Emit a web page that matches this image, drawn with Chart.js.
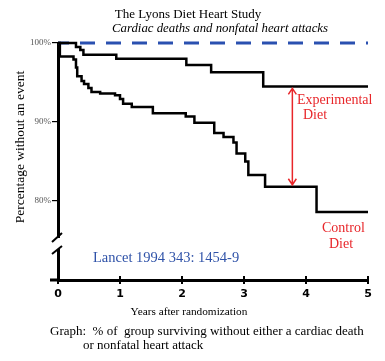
<!DOCTYPE html>
<html>
<head>
<meta charset="utf-8">
<script src="https://cdn.jsdelivr.net/npm/chart.js@4"></script>
<style>
  html, body { margin: 0; padding: 0; background: #fff; }
  #wrap { width: 385px; height: 361px; }
</style>
</head>
<body>
<div id="wrap"><canvas id="lyonsChart" width="385" height="361"></canvas></div>
<script>
// Survival curves (years after randomization, % without an event)
const expYears = [0, 0.29, 0.36, 0.41, 0.94, 2.07, 2.47, 3.31, 5];
const expPct   = [100, 99.5, 99.1, 98.5, 98.0, 97.2, 96.3, 94.5, 94.5];
const ctlYears = [0, 0.03, 0.25, 0.29, 0.31, 0.38, 0.42, 0.49, 0.54, 0.68, 0.92, 1.0, 1.05, 1.19, 1.53, 2.06, 2.2, 2.52, 2.67, 2.83, 2.88, 3.02, 3.07, 3.34, 4.17, 5];
const ctlPct   = [100, 98.3, 97.9, 96.9, 95.8, 95.2, 94.8, 94.3, 93.8, 93.6, 93.4, 92.9, 92.3, 91.9, 91.1, 90.7, 89.9, 88.6, 88.1, 87.4, 86.0, 85.0, 83.3, 81.8, 78.6, 78.6];
const refYears = [0, 5];
const refPct   = [100, 100];
const yearTicks = [0, 1, 2, 3, 4, 5];
const pctTicks  = [70, 80, 90, 100];
const arrowYear = 3.78;

function toPoints(xs, ys) {
    return xs.map((x, i) => ({ x: x, y: ys[i] }));
}

const SERIF = '"Liberation Serif", "DejaVu Serif", serif';

const extrasPlugin = {
    id: 'extras',
    afterDraw(chart) {
        const ctx = chart.ctx;
        const xs = chart.scales.x, ys = chart.scales.y;
        const area = chart.chartArea;
        ctx.save();

        // x axis runs a little past the y axis
        ctx.strokeStyle = '#000';
        ctx.lineWidth = 3;
        ctx.beginPath();
        ctx.moveTo(area.left - 8, area.bottom);
        ctx.lineTo(area.left, area.bottom);
        ctx.stroke();

        // small upward tick parts
        ctx.lineWidth = 2;
        yearTicks.forEach(v => {
            const px = xs.getPixelForValue(v);
            ctx.beginPath();
            ctx.moveTo(px, area.bottom);
            ctx.lineTo(px, area.bottom - 4);
            ctx.stroke();
        });

        // axis break
        ctx.fillStyle = '#fff';
        ctx.fillRect(area.left - 3, 238, 6, 11);
        ctx.lineWidth = 2;
        ctx.beginPath();
        ctx.moveTo(area.left - 6, 242); ctx.lineTo(area.left + 4, 233);
        ctx.moveTo(area.left - 6, 254); ctx.lineTo(area.left + 4, 246);
        ctx.stroke();

        // red arrow between the curves
        const ax = xs.getPixelForValue(arrowYear);
        const aTop = ys.getPixelForValue(expPct[expPct.length - 1]) + 2;
        const aBot = ys.getPixelForValue(ctlPct[ctlPct.length - 3]) - 2;
        ctx.strokeStyle = '#e8262a';
        ctx.lineWidth = 1.5;
        ctx.beginPath();
        ctx.moveTo(ax, aTop); ctx.lineTo(ax, aBot);
        ctx.moveTo(ax - 4, aTop + 6); ctx.lineTo(ax, aTop); ctx.lineTo(ax + 4, aTop + 6);
        ctx.moveTo(ax - 4, aBot - 6); ctx.lineTo(ax, aBot); ctx.lineTo(ax + 4, aBot - 6);
        ctx.stroke();

        // texts
        ctx.fillStyle = '#000';
        ctx.textBaseline = 'alphabetic';
        ctx.textAlign = 'center';
        ctx.font = '13px ' + SERIF;
        ctx.fillText('The Lyons Diet Heart Study', 188, 18);
        ctx.font = 'italic 12.8px ' + SERIF;
        ctx.textAlign = 'left';
        ctx.fillText('Cardiac deaths and nonfatal heart attacks', 112, 32);

        ctx.font = '11.3px ' + SERIF;
        ctx.textAlign = 'center';
        ctx.fillText('Years after randomization', 189, 315);

        ctx.font = '13px ' + SERIF;
        ctx.textAlign = 'left';
        ctx.fillText('Graph:  % of  group surviving without either a cardiac death', 50, 335);
        ctx.fillText('or nonfatal heart attack', 83, 349);

        ctx.save();
        ctx.translate(24, 147);
        ctx.rotate(-Math.PI / 2);
        ctx.textAlign = 'center';
        ctx.font = '13.5px ' + SERIF;
        ctx.fillText('Percentage without an event', 0, 0);
        ctx.restore();

        ctx.fillStyle = '#e8262a';
        ctx.font = '14px ' + SERIF;
        ctx.fillText('Experimental', 297, 104);
        ctx.fillText('Diet', 303, 119);
        ctx.fillText('Control', 322, 232);
        ctx.fillText('Diet', 329, 248);

        ctx.fillStyle = '#2f52a8';
        ctx.font = '14.5px ' + SERIF;
        ctx.fillText('Lancet 1994 343: 1454-9', 93, 262);

        ctx.restore();
    }
};

document.addEventListener('DOMContentLoaded', function() {
    const ctx = document.getElementById('lyonsChart').getContext('2d');
    new Chart(ctx, {
        type: 'line',
        data: {
            datasets: [{
                label: 'No event',
                data: toPoints(refYears, refPct),
                borderColor: '#2a50b0',
                borderWidth: 3,
                borderDash: [15, 11],
                borderDashOffset: 4,
                pointRadius: 0,
                clip: false,
                order: 3
            }, {
                label: 'Experimental Diet',
                data: toPoints(expYears, expPct),
                borderColor: '#000',
                borderWidth: 2.5,
                stepped: 'before',
                pointRadius: 0,
                clip: false,
                order: 1
            }, {
                label: 'Control Diet',
                data: toPoints(ctlYears, ctlPct),
                borderColor: '#000',
                borderWidth: 2.5,
                stepped: 'before',
                pointRadius: 0,
                clip: false,
                order: 2
            }]
        },
        options: {
            responsive: false,
            animation: false,
            devicePixelRatio: 1,
            layout: { padding: { top: 43, right: 17, left: 0, bottom: 0 } },
            plugins: {
                legend: { display: false },
                tooltip: { enabled: false }
            },
            scales: {
                x: {
                    type: 'linear',
                    min: 0,
                    max: 5,
                    afterFit: s => { s.height = 81; },
                    afterBuildTicks: s => { s.ticks = yearTicks.map(v => ({ value: v })); },
                    border: { color: '#000', width: 3 },
                    grid: { drawOnChartArea: false, drawTicks: true, tickLength: 4, color: '#000', lineWidth: 2 },
                    ticks: {
                        color: '#000',
                        padding: 4,
                        maxRotation: 0,
                        font: { family: '"DejaVu Sans"', weight: 'bold', size: 11 }
                    }
                },
                y: {
                    type: 'linear',
                    min: 70,
                    max: 100,
                    afterFit: s => { s.width = 58; },
                    afterBuildTicks: s => { s.ticks = pctTicks.map(v => ({ value: v })); },
                    border: { color: '#000', width: 3 },
                    grid: { drawOnChartArea: false, drawTicks: true, tickLength: 6, color: '#000', lineWidth: 1.2 },
                    ticks: {
                        color: '#555',
                        padding: 1,
                        font: { family: SERIF, size: 9 },
                        callback: v => (v === 70 ? '' : v + '%')
                    }
                }
            }
        },
        plugins: [extrasPlugin]
    });
});
</script>
</body>
</html>
